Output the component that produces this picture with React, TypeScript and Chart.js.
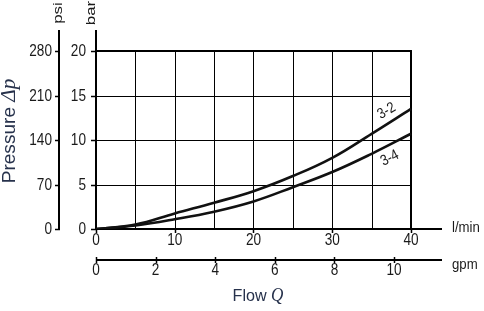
import { useEffect, useRef } from 'react';
import { Chart, registerables } from 'chart.js';

Chart.register(...registerables);

// ---- data ----
const flowLpm = [0, 5, 10, 15, 20, 25, 30, 35, 40];
const dp32 = [0, 0.5, 1.75, 2.95, 4.25, 5.95, 8.0, 10.7, 13.5];
const dp34 = [0, 0.4, 1.1, 1.95, 3.1, 4.7, 6.4, 8.45, 10.7];
const seriesNames = ['3-2', '3-4'];

const barTicks = [0, 5, 10, 15, 20];
const psiTicks = [0, 70, 140, 210, 280];
const lpmTicks = [0, 10, 20, 30, 40];
const lpmGrid = [5, 10, 15, 20, 25, 30, 35];
const gpmTicks = [0, 2, 4, 6, 8, 10];

// ---- layout constants ----
const W = 484;
const H = 311;
const X_MAX = 43.94;
const Y_MAX = 22.36;
const PSI_PER_BAR = 14;
const LPM_PER_GPM = 3.785;
const PSI_AXIS_X = 59;
const GPM_AXIS_Y = 260;
const TEXT = '#1a1a1a';
const TITLE = '#27324c';
const SANS = '"Liberation Sans", Arial, sans-serif';
const SERIF = '"Liberation Serif", "Times New Roman", serif';
const curveLabels = [
  { x: 36.9, y: 13.25, rot: -30 },
  { x: 37.3, y: 7.95, rot: -27 },
];

type Ctx = CanvasRenderingContext2D;

function txt(
  ctx: Ctx,
  t: string,
  x: number,
  y: number,
  font: string,
  k: number,
  align: CanvasTextAlign,
  baseline: CanvasTextBaseline,
  rotDeg = 0,
) {
  ctx.save();
  ctx.translate(x, y);
  ctx.rotate((rotDeg * Math.PI) / 180);
  ctx.scale(k, 1);
  ctx.font = font;
  ctx.textAlign = align;
  ctx.textBaseline = baseline;
  ctx.fillText(t, 0, 0);
  ctx.restore();
}

const axesPlugin = {
  id: 'hydraulicAxes',
  beforeDatasetsDraw(chart: any) {
    const { ctx } = chart;
    const xs = chart.scales.x;
    const ys = chart.scales.y;
    const X = (v: number) => xs.getPixelForValue(v);
    const Y = (v: number) => ys.getPixelForValue(v);
    const ca = chart.chartArea;
    ctx.save();
    ctx.strokeStyle = '#000';
    ctx.lineCap = 'butt';
    const line = (x1: number, y1: number, x2: number, y2: number, w: number) => {
      ctx.lineWidth = w;
      ctx.beginPath();
      ctx.moveTo(x1, y1);
      ctx.lineTo(x2, y2);
      ctx.stroke();
    };
    const crisp = (v: number) => Math.round(v) + 0.5;
    // grid
    lpmGrid.forEach((v) => line(crisp(X(v)), Y(0), crisp(X(v)), Y(20), 1));
    barTicks.slice(1, -1).forEach((v) => line(X(0), crisp(Y(v)), X(40), crisp(Y(v)), 1));
    // border
    line(X(0), Math.round(Y(20)), X(40) + 1, Math.round(Y(20)), 2);
    line(Math.round(X(40)), Y(0), Math.round(X(40)), Y(20), 2);
    // main axes
    line(Math.round(X(0)), Y(0) + 1, Math.round(X(0)), ca.top, 2);
    line(X(0), Math.round(Y(0)), ca.right, Math.round(Y(0)), 2);
    // psi axis
    line(PSI_AXIS_X, Y(0) + 1, PSI_AXIS_X, ca.top, 2);
    // gpm axis
    line(X(0), GPM_AXIS_Y, ca.right, GPM_AXIS_Y, 2);

    // ticks
    barTicks.forEach((v) => line(X(0) - 5, crisp(Y(v)), X(0), crisp(Y(v)), 1.5));
    const psiS = chart.scales.psi;
    psiTicks.forEach((v) => {
      const py = crisp(psiS.getPixelForValue(v));
      line(PSI_AXIS_X - 4, py, PSI_AXIS_X + 1, py, 1.5);
    });
    lpmTicks.forEach((v) => line(crisp(X(v)), Y(0), crisp(X(v)), Y(0) + 4, 1.5));
    const gpmS = chart.scales.gpm;
    gpmTicks.forEach((v) => {
      const px = crisp(gpmS.getPixelForValue(v));
      line(px, GPM_AXIS_Y - 3, px, GPM_AXIS_Y + 3, 1.5);
    });
    ctx.restore();
  },
  afterDatasetsDraw(chart: any) {
    const ctx: Ctx = chart.ctx;
    const xs = chart.scales.x;
    const ys = chart.scales.y;
    const X = (v: number) => xs.getPixelForValue(v);
    const Y = (v: number) => ys.getPixelForValue(v);
    ctx.save();
    ctx.fillStyle = TEXT;
    const tickFont = `16px ${SANS}`;
    const TK = 0.85;
    barTicks.forEach((v) => txt(ctx, String(v), X(0) - 10, Y(v) + 1, tickFont, TK, 'right', 'middle'));
    const psiS = chart.scales.psi;
    psiTicks.forEach((v) =>
      txt(ctx, String(v), PSI_AXIS_X - 7, psiS.getPixelForValue(v) + 1, tickFont, TK, 'right', 'middle'),
    );
    lpmTicks.forEach((v) => txt(ctx, String(v), X(v), Y(0) + 11.5, tickFont, TK, 'center', 'middle'));
    const gpmS = chart.scales.gpm;
    gpmTicks.forEach((v) =>
      txt(ctx, String(v), gpmS.getPixelForValue(v), GPM_AXIS_Y + 11, tickFont, TK, 'center', 'middle'),
    );

    // units
    const unitFont = `15px ${SANS}`;
    txt(ctx, 'l/min', 452, Y(0) + 3, unitFont, 0.88, 'left', 'alphabetic');
    txt(ctx, 'gpm', 452, GPM_AXIS_Y + 9, unitFont, 0.88, 'left', 'alphabetic');
    // rotated unit labels (stretched along reading direction)
    txt(ctx, 'psi', PSI_AXIS_X - 1, 13, `13px ${SANS}`, 1.3, 'center', 'middle', -90);
    txt(ctx, 'bar', X(0) - 5, 13, `13px ${SANS}`, 1.3, 'center', 'middle', -90);

    // curve labels
    seriesNames.forEach((n, i) => {
      const l = curveLabels[i];
      txt(ctx, n, X(l.x), Y(l.y), `15px ${SANS}`, 0.85, 'center', 'middle', l.rot);
    });

    // titles
    ctx.fillStyle = TITLE;
    const mixedTitle = (
      a: string,
      b: string,
      cx: number,
      cy: number,
      deg: number,
      sa: number,
      sb: number,
      k: number,
    ) => {
      ctx.save();
      ctx.translate(cx, cy);
      ctx.rotate((deg * Math.PI) / 180);
      ctx.scale(k, 1);
      ctx.textAlign = 'left';
      ctx.textBaseline = 'alphabetic';
      ctx.font = `${sa}px ${SANS}`;
      const wa = ctx.measureText(a).width;
      ctx.font = `italic ${sb}px ${SERIF}`;
      const wb = ctx.measureText(b).width;
      const start = -(wa + wb) / 2;
      ctx.font = `${sa}px ${SANS}`;
      ctx.fillText(a, start, 0);
      ctx.font = `italic ${sb}px ${SERIF}`;
      ctx.fillText(b, start + wa, 0);
      ctx.restore();
    };
    mixedTitle('Pressure ', '\u0394p', 15, 131, -90, 18, 20, 1.06);
    mixedTitle('Flow ', 'Q', 258, 301, 0, 17, 18, 0.95);
    ctx.restore();
  },
};

export default function App() {
  const ref = useRef<HTMLCanvasElement | null>(null);
  useEffect(() => {
    if (!ref.current) return;
    const mk = (ys: number[]) => flowLpm.map((x, i) => ({ x, y: ys[i] }));
    const chart = new Chart(ref.current, {
      type: 'line',
      data: {
        datasets: [
          { label: seriesNames[0], data: mk(dp32) },
          { label: seriesNames[1], data: mk(dp34) },
        ].map((d) => ({
          ...d,
          borderColor: '#111',
          borderWidth: 2.6,
          pointRadius: 0,
          fill: false,
          tension: 0.4,
        })),
      },
      options: {
        animation: false,
        responsive: false,
        maintainAspectRatio: false,
        devicePixelRatio: 1,
        layout: { padding: { left: 96, right: W - 442, top: 30, bottom: H - 229 } },
        plugins: { legend: { display: false }, tooltip: { enabled: false }, title: { display: false } },
        events: [],
        scales: {
          x: { type: 'linear', min: 0, max: X_MAX, display: false },
          y: { type: 'linear', min: 0, max: Y_MAX, display: false },
          gpm: { type: 'linear', axis: 'x', position: 'bottom', min: 0, max: X_MAX / LPM_PER_GPM, display: false },
          psi: { type: 'linear', axis: 'y', position: 'left', min: 0, max: Y_MAX * PSI_PER_BAR, display: false },
        },
      },
      plugins: [axesPlugin],
    });
    return () => chart.destroy();
  }, []);
  return (
    <div style={{ position: 'absolute', left: 0, top: 0, width: W, height: H, background: '#fff' }}>
      <canvas ref={ref} width={W} height={H} style={{ width: W, height: H, display: 'block' }} />
    </div>
  );
}
